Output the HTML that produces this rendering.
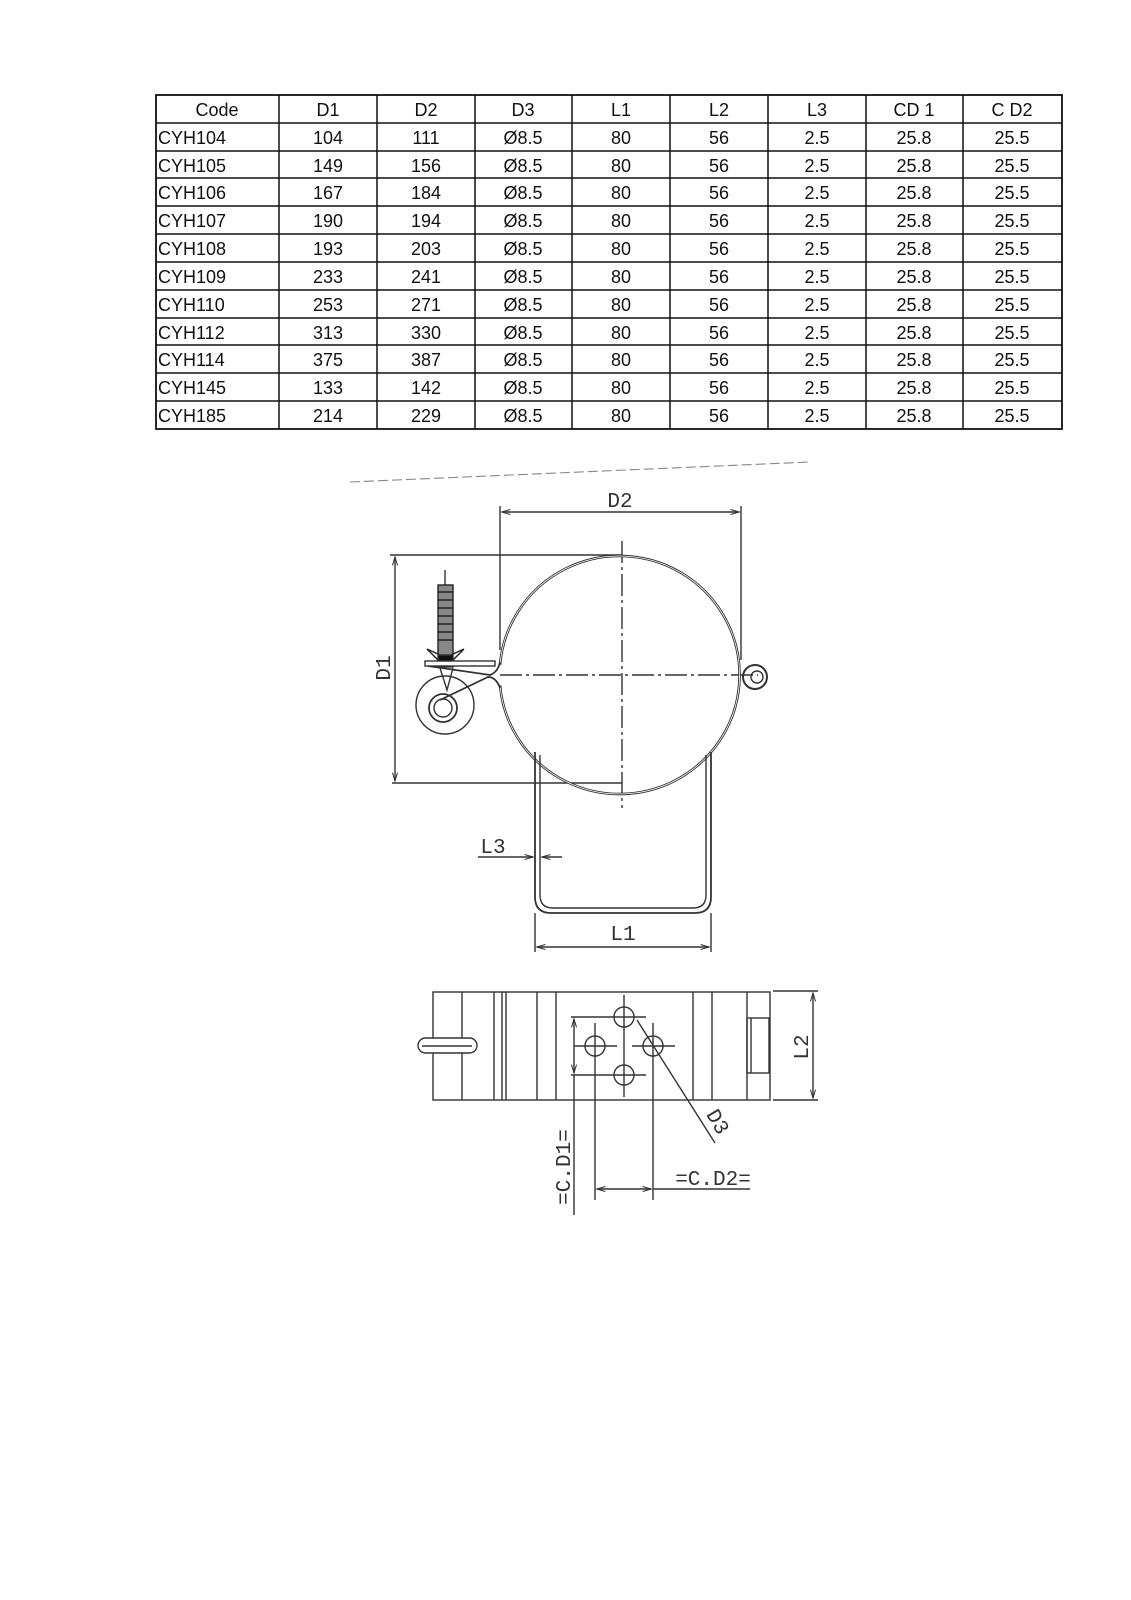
<!DOCTYPE html>
<html><head><meta charset="utf-8"><style>
html,body{margin:0;padding:0;background:#fff;}
svg{display:block;}
.t{font-family:"Liberation Sans",sans-serif;font-size:18px;fill:#111;}
.l{font-family:"Liberation Mono",monospace;font-size:21px;fill:#333;}
</style></head><body>
<svg width="1131" height="1600" viewBox="0 0 1131 1600" xmlns="http://www.w3.org/2000/svg">
<defs>
<marker id="a" viewBox="0 0 10 10" refX="10" refY="5" markerWidth="8" markerHeight="6" orient="auto-start-reverse"><path d="M0,2 L10,5 L0,8" fill="none" stroke="#333" stroke-width="1.2"/></marker>
</defs>
<!-- table -->
<g stroke="#111" stroke-width="1.8" fill="none">
<rect x="156" y="95" width="906" height="334"/>
</g>
<g stroke="#111" stroke-width="1.5">
<line x1="156" y1="123" x2="1062" y2="123"/><line x1="156" y1="151" x2="1062" y2="151"/>
<line x1="156" y1="178" x2="1062" y2="178"/><line x1="156" y1="206" x2="1062" y2="206"/>
<line x1="156" y1="234" x2="1062" y2="234"/><line x1="156" y1="262" x2="1062" y2="262"/>
<line x1="156" y1="290" x2="1062" y2="290"/><line x1="156" y1="318" x2="1062" y2="318"/>
<line x1="156" y1="345" x2="1062" y2="345"/><line x1="156" y1="373" x2="1062" y2="373"/>
<line x1="156" y1="401" x2="1062" y2="401"/>
<line x1="279" y1="95" x2="279" y2="429"/><line x1="377" y1="95" x2="377" y2="429"/>
<line x1="475" y1="95" x2="475" y2="429"/><line x1="572" y1="95" x2="572" y2="429"/>
<line x1="670" y1="95" x2="670" y2="429"/><line x1="768" y1="95" x2="768" y2="429"/>
<line x1="866" y1="95" x2="866" y2="429"/><line x1="963" y1="95" x2="963" y2="429"/>
</g>
<g class="t" text-anchor="middle">
<text x="217" y="116">Code</text><text x="328" y="116">D1</text><text x="426" y="116">D2</text><text x="523" y="116">D3</text><text x="621" y="116">L1</text><text x="719" y="116">L2</text><text x="817" y="116">L3</text><text x="914" y="116">CD 1</text><text x="1012" y="116">C D2</text>
</g>
<g class="t">
<text x="158" y="144">CYH104</text><text x="158" y="172">CYH105</text><text x="158" y="199">CYH106</text><text x="158" y="227">CYH107</text><text x="158" y="255">CYH108</text><text x="158" y="283">CYH109</text><text x="158" y="311">CYH110</text><text x="158" y="339">CYH112</text><text x="158" y="366">CYH114</text><text x="158" y="394">CYH145</text><text x="158" y="422">CYH185</text>
</g>
<g class="t" text-anchor="middle">
<text x="328" y="144">104</text><text x="426" y="144">111</text>
<text x="328" y="172">149</text><text x="426" y="172">156</text>
<text x="328" y="199">167</text><text x="426" y="199">184</text>
<text x="328" y="227">190</text><text x="426" y="227">194</text>
<text x="328" y="255">193</text><text x="426" y="255">203</text>
<text x="328" y="283">233</text><text x="426" y="283">241</text>
<text x="328" y="311">253</text><text x="426" y="311">271</text>
<text x="328" y="339">313</text><text x="426" y="339">330</text>
<text x="328" y="366">375</text><text x="426" y="366">387</text>
<text x="328" y="394">133</text><text x="426" y="394">142</text>
<text x="328" y="422">214</text><text x="426" y="422">229</text>
</g>
<g class="t" text-anchor="middle">
<text x="523" y="144">Ø8.5</text><text x="621" y="144">80</text><text x="719" y="144">56</text><text x="817" y="144">2.5</text><text x="914" y="144">25.8</text><text x="1012" y="144">25.5</text>
<text x="523" y="172">Ø8.5</text><text x="621" y="172">80</text><text x="719" y="172">56</text><text x="817" y="172">2.5</text><text x="914" y="172">25.8</text><text x="1012" y="172">25.5</text>
<text x="523" y="199">Ø8.5</text><text x="621" y="199">80</text><text x="719" y="199">56</text><text x="817" y="199">2.5</text><text x="914" y="199">25.8</text><text x="1012" y="199">25.5</text>
<text x="523" y="227">Ø8.5</text><text x="621" y="227">80</text><text x="719" y="227">56</text><text x="817" y="227">2.5</text><text x="914" y="227">25.8</text><text x="1012" y="227">25.5</text>
<text x="523" y="255">Ø8.5</text><text x="621" y="255">80</text><text x="719" y="255">56</text><text x="817" y="255">2.5</text><text x="914" y="255">25.8</text><text x="1012" y="255">25.5</text>
<text x="523" y="283">Ø8.5</text><text x="621" y="283">80</text><text x="719" y="283">56</text><text x="817" y="283">2.5</text><text x="914" y="283">25.8</text><text x="1012" y="283">25.5</text>
<text x="523" y="311">Ø8.5</text><text x="621" y="311">80</text><text x="719" y="311">56</text><text x="817" y="311">2.5</text><text x="914" y="311">25.8</text><text x="1012" y="311">25.5</text>
<text x="523" y="339">Ø8.5</text><text x="621" y="339">80</text><text x="719" y="339">56</text><text x="817" y="339">2.5</text><text x="914" y="339">25.8</text><text x="1012" y="339">25.5</text>
<text x="523" y="366">Ø8.5</text><text x="621" y="366">80</text><text x="719" y="366">56</text><text x="817" y="366">2.5</text><text x="914" y="366">25.8</text><text x="1012" y="366">25.5</text>
<text x="523" y="394">Ø8.5</text><text x="621" y="394">80</text><text x="719" y="394">56</text><text x="817" y="394">2.5</text><text x="914" y="394">25.8</text><text x="1012" y="394">25.5</text>
<text x="523" y="422">Ø8.5</text><text x="621" y="422">80</text><text x="719" y="422">56</text><text x="817" y="422">2.5</text><text x="914" y="422">25.8</text><text x="1012" y="422">25.5</text>
</g>

<!-- top view drawing -->
<g stroke="#333" fill="none" stroke-width="1.4">
<path d="M350,482 L810,462" stroke-dasharray="10,4" stroke="#888" stroke-width="1.1"/>
<line x1="500" y1="506" x2="500" y2="650"/><line x1="741" y1="506" x2="741" y2="660"/>
<line x1="502" y1="512" x2="739" y2="512" marker-start="url(#a)" marker-end="url(#a)"/>
<line x1="390" y1="555" x2="622" y2="555"/><line x1="392" y1="783" x2="622" y2="783"/>
<line x1="395" y1="557" x2="395" y2="781" marker-start="url(#a)" marker-end="url(#a)"/>
<line x1="622" y1="541" x2="622" y2="808" stroke-dasharray="22,4,3,4"/>
<line x1="500" y1="675" x2="758" y2="675" stroke-dasharray="22,4,3,4"/>
<path d="M500,665 A120,119 0 1 1 500,685" stroke-width="2.6"/>
<path d="M500,665 A120,119 0 1 1 500,685" stroke="#fff" stroke-width="0.8"/>
<path d="M500,662 Q498,672 490,675 L428,666 M500,688 Q496,677 488,677 L440,700" stroke-width="1.8"/>
<circle cx="755" cy="677" r="12" stroke-width="2"/><circle cx="757" cy="677" r="6"/>
<line x1="445" y1="570" x2="445" y2="585"/>
<rect x="438" y="585" width="15" height="80" fill="#888" stroke="#222"/>
<path d="M438,592 h15 M438,600 h15 M438,608 h15 M438,616 h15 M438,624 h15 M438,632 h15 M438,640 h15" stroke="#222"/>
<path d="M427,649 L440,655 L440,662 Z M464,649 L451,655 L451,662 Z" fill="#fff" stroke="#222"/>
<rect x="438" y="655" width="15" height="12" fill="#111"/>
<rect x="425" y="661" width="70" height="5" fill="#fff"/>
<path d="M440,668 L447,690 L453,668"/>
<circle cx="445" cy="705" r="29"/>
<circle cx="443" cy="708" r="14" stroke-width="1.8"/><circle cx="443" cy="708" r="9"/>
<path d="M535,752 L535,897 Q535,913 551,913 L695,913 Q711,913 711,897 L711,752" stroke-width="1.8"/>
<path d="M540,755 L540,895 Q540,908 553,908 L693,908 Q706,908 706,895 L706,755"/>
<line x1="535" y1="913" x2="535" y2="952"/><line x1="711" y1="913" x2="711" y2="952"/>
<line x1="537" y1="947" x2="709" y2="947" marker-start="url(#a)" marker-end="url(#a)"/>
<line x1="478" y1="857" x2="533" y2="857" marker-end="url(#a)"/>
<line x1="562" y1="857" x2="542" y2="857" marker-end="url(#a)"/>
</g>
<g class="l" text-anchor="middle">
<text x="620" y="507">D2</text>
<text x="493" y="853">L3</text>
<text x="623" y="940">L1</text>
<text transform="translate(390,668) rotate(-90)">D1</text>
</g>

<!-- side view -->
<g stroke="#333" fill="none" stroke-width="1.4">
<rect x="433" y="992" width="337" height="108"/>
<path d="M462,992 V1100 M494,992 V1100 M502,992 V1100 M506,992 V1100 M537,992 V1100 M556,992 V1100 M693,992 V1100 M712,992 V1100 M747,992 V1100"/>
<rect x="747" y="1018" width="22" height="55"/>
<line x1="751" y1="1018" x2="751" y2="1073"/>
<rect x="418" y="1038" width="59" height="15" rx="7.5" fill="#fff"/>
<line x1="422" y1="1046" x2="472" y2="1046"/>
<circle cx="624" cy="1017" r="10"/><circle cx="595" cy="1046" r="10"/>
<circle cx="653" cy="1046" r="10"/><circle cx="624" cy="1075" r="10"/>
<path d="M571,1017 H646 M571,1075 H646 M574,1046 H617 M632,1046 H675 M624,995 V1097"/>
<line x1="595" y1="1023" x2="595" y2="1200"/><line x1="653" y1="1023" x2="653" y2="1200"/>
<line x1="574" y1="1019" x2="574" y2="1073" marker-start="url(#a)" marker-end="url(#a)"/>
<line x1="574" y1="1075" x2="574" y2="1215"/>
<line x1="597" y1="1189" x2="651" y2="1189" marker-start="url(#a)" marker-end="url(#a)"/>
<line x1="653" y1="1189" x2="750" y2="1189"/>
<line x1="637" y1="1020" x2="715" y2="1143"/>
<line x1="773" y1="991" x2="818" y2="991"/><line x1="773" y1="1100" x2="818" y2="1100"/>
<line x1="813" y1="993" x2="813" y2="1098" marker-start="url(#a)" marker-end="url(#a)"/>
</g>
<g class="l" text-anchor="middle">
<text x="713" y="1185">=C.D2=</text>
<text transform="translate(570,1167) rotate(-90)">=C.D1=</text>
<text transform="translate(808,1047) rotate(-90)">L2</text>
<text transform="translate(712,1125) rotate(60)">D3</text>
</g>
</svg>
</body></html>
